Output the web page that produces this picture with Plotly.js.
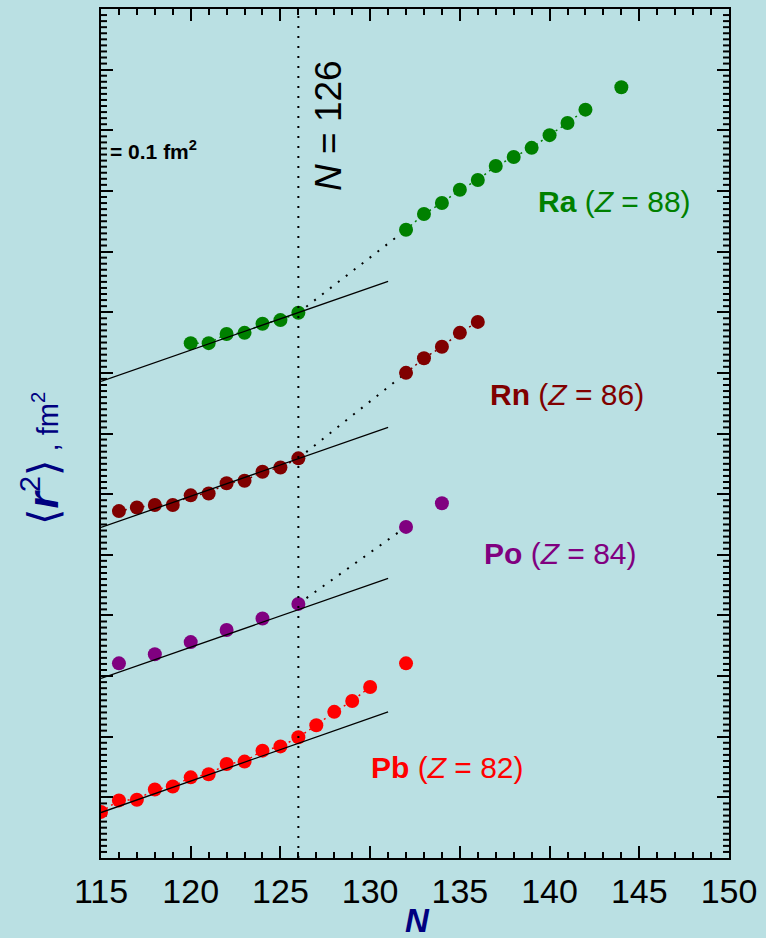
<!DOCTYPE html>
<html>
<head>
<meta charset="utf-8">
<script src="https://cdn.plot.ly/plotly-3.0.1.min.js"></script>
<style>html,body{margin:0;padding:0;background:#bae0e3;}</style>
</head>
<body>
<div id="chart" style="width:766px;height:938px;"></div>
<script>
// ---- data ----
const pbN  = [115,116,117,118,119,120,121,122,123,124,125,126,127,128,129,130,132];
const pbR2 = [0.076,0.095,0.096,0.113,0.118,0.133,0.138,0.155,0.159,0.177,0.184,0.199,0.219,0.241,0.259,0.282,0.321];

const poN  = [116,118,120,122,124,126,132,134];
const poR2 = [0.321,0.336,0.356,0.376,0.395,0.419,0.546,0.585];

const rnN  = [116,117,118,119,120,121,122,123,124,125,126,132,133,134,135,136];
const rnR2 = [0.572,0.578,0.582,0.582,0.598,0.601,0.618,0.622,0.637,0.644,0.659,0.800,0.824,0.843,0.866,0.884];

const raN  = [120,121,122,123,124,125,126,132,133,134,135,136,137,138,139,140,141,142,144];
const raR2 = [0.849,0.849,0.864,0.866,0.881,0.887,0.899,1.036,1.062,1.080,1.102,1.118,1.141,1.156,1.171,1.192,1.212,1.234,1.271];

const fitN  = [115,131];
const pbFit = [0.075,0.241];
const poFit = [0.296,0.461];
const rnFit = [0.545,0.710];
const raFit = [0.786,0.951];

const shellN = 126;
const jumpN = 132;
const xTicks = [115,120,125,130,135,140,145,150];

const seriesNames = ['Pb','Po','Rn','Ra'];
const seriesZ = [82,84,86,88];
const seriesColors = ['#ff0000','#800080','#800000','#008000'];

// ---- build traces ----
const series = [
  {N: pbN, v: pbR2, fit: pbFit},
  {N: poN, v: poR2, fit: poFit},
  {N: rnN, v: rnR2, fit: rnFit},
  {N: raN, v: raR2, fit: raFit}
];

const xRange = [115, 150];
const yRange = [0, 1.4];
const yMajorStep = 0.1, yFineSteps = 10;

const traces = [];
// fine y-axis ticks (every 0.01 fm^2) on the left and right frame edges
const fineY = [];
for (let k = 0; k <= Math.round((yRange[1] - yRange[0]) / yMajorStep) * yFineSteps; k++) {
  if (k % yFineSteps !== 0) fineY.push(yRange[0] + k * yMajorStep / yFineSteps);
}
xRange.forEach(edge => {
  traces.push({x: fineY.map(() => edge), y: fineY, mode: 'markers', cliponaxis: true,
    marker: {symbol: 'line-ew', size: 8.6, color: '#000', line: {color: '#000', width: 2}},
    hoverinfo: 'skip'});
});
// thin coloured dotted connectors between consecutive isotopes
series.forEach((s, i) => {
  const xs = [], ys = [];
  for (let k = 0; k < s.N.length; k++) {
    if (k > 0 && s.N[k] - s.N[k-1] > 1) { xs.push(null); ys.push(null); }
    xs.push(s.N[k]); ys.push(s.v[k]);
  }
  traces.push({x: xs, y: ys, mode: 'lines', connectgaps: false,
    line: {color: seriesColors[i], width: 1.5, dash: '2px,4px'}, hoverinfo: 'skip'});
});
// black dotted extrapolation from N=126 to N=132
series.forEach((s, i) => {
  const a = s.N.indexOf(shellN), b = s.N.indexOf(jumpN);
  if (i === 0 || a < 0 || b < 0) return;
  traces.push({x: [s.N[a], s.N[b]], y: [s.v[a], s.v[b]], mode: 'lines',
    line: {color: '#000', width: 2, dash: '2px,8px'}, hoverinfo: 'skip'});
});
// markers
series.forEach((s, i) => {
  traces.push({x: s.N, y: s.v, mode: 'markers', cliponaxis: true,
    marker: {color: seriesColors[i], size: 14, line: {width: 0}}, name: seriesNames[i]});
});
// linear fit lines
series.forEach((s, i) => {
  traces.push({x: fitN, y: s.fit, mode: 'lines', line: {color: '#000', width: 1.3}, hoverinfo: 'skip'});
});

// ---- layout ----
const L = 101, R = 37, T = 9, B = 80, W = 766, H = 938;
const pw = W - L - R, ph = H - T - B;
const px = v => (v - L) / pw;
const py = v => (H - B - v) / ph;

const labelPos = [[447.5, 767], [560, 553], [566.5, 394], [614.5, 202]];
const annotations = seriesNames.map((nm, i) => ({
  xref: 'paper', yref: 'paper', x: px(labelPos[i][0]), y: py(labelPos[i][1]),
  xanchor: 'center', yanchor: 'middle', showarrow: false,
  text: '<b>' + nm + '</b> (<i>Z</i> = ' + seriesZ[i] + ')',
  font: {family: 'Liberation Sans, Arial, sans-serif', size: 30, color: seriesColors[i]}
}));
annotations.push({
  xref: 'paper', yref: 'paper', x: px(329), y: py(126), xanchor: 'center', yanchor: 'middle',
  showarrow: false, textangle: -90, text: '<i>N</i> = ' + shellN,
  font: {family: 'Liberation Sans, Arial, sans-serif', size: 37, color: '#000'}
});
annotations.push({
  xref: 'paper', yref: 'paper', x: px(108), y: py(150), xanchor: 'left', yanchor: 'middle',
  showarrow: false, text: '<b>= 0.1 fm<sup>2</sup></b>',
  font: {family: 'Liberation Sans, Arial, sans-serif', size: 21, color: '#000'}
});
annotations.push({
  xref: 'paper', yref: 'paper', x: px(40), y: py(458), xanchor: 'center', yanchor: 'middle',
  showarrow: false, textangle: -90,
  text: '⟨<b><i>r</i></b><sup>2</sup>⟩<span style="font-size:29px"> , fm<sup>2</sup></span>',
  font: {family: 'Liberation Sans, DejaVu Sans, Arial, sans-serif', size: 42, color: '#000080'}
});
annotations.push({
  xref: 'paper', yref: 'paper', x: px(417), y: py(920), xanchor: 'center', yanchor: 'middle',
  showarrow: false, text: '<b><i>N</i></b>',
  font: {family: 'Liberation Sans, Arial, sans-serif', size: 33, color: '#000080'}
});

const layout = {
  width: W, height: H,
  margin: {l: L, r: R, t: T, b: B, pad: 0},
  paper_bgcolor: '#bae0e3', plot_bgcolor: '#bae0e3',
  showlegend: false,
  xaxis: {
    range: xRange, tickvals: xTicks, ticktext: xTicks.map(String),
    showgrid: false, zeroline: false, showline: true, linecolor: '#000', linewidth: 2,
    mirror: 'allticks', ticks: 'inside', ticklen: 12, tickwidth: 2, tickcolor: '#000',
    ticklabelstandoff: 2,
    tickfont: {family: 'Liberation Sans, Arial, sans-serif', size: 34, color: '#000'},
    minor: {dtick: 1, ticks: 'inside', ticklen: 6, tickwidth: 2, tickcolor: '#000', showgrid: false}
  },
  yaxis: {
    range: yRange, dtick: yMajorStep, tick0: 0, showticklabels: false,
    showgrid: false, zeroline: false, showline: true, linecolor: '#000', linewidth: 2,
    mirror: 'allticks', ticks: 'inside', ticklen: 12, tickwidth: 2, tickcolor: '#000'
  },
  shapes: [{
    type: 'line', xref: 'x', yref: 'paper', x0: shellN, x1: shellN, y0: 0, y1: 1,
    line: {color: '#000', width: 2, dash: '2px,8px'}
  }],
  annotations: annotations
};

Plotly.newPlot('chart', traces, layout, {displayModeBar: false, staticPlot: true});
</script>
</body>
</html>
